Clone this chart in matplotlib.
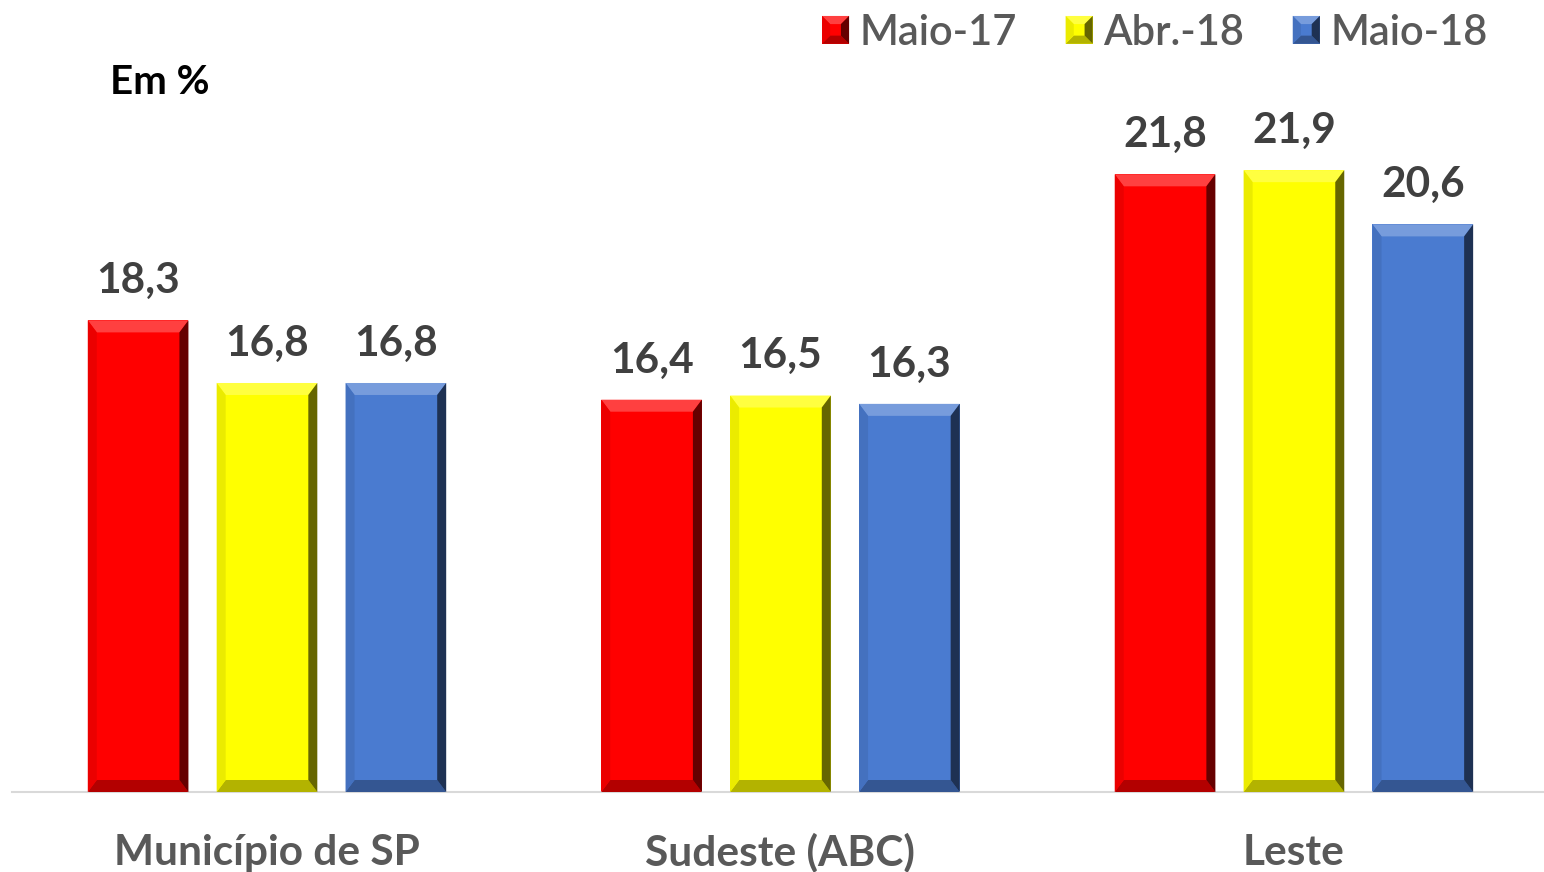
"""
Taxa de desemprego - Municipio de SP, Sudeste (ABC), Leste.
Barras com efeito de chanfro.
"""

import numpy as np
import matplotlib
matplotlib.use('Agg')
import matplotlib.pyplot as plt
from matplotlib.patches import Polygon, Patch
from matplotlib.legend_handler import HandlerPatch
from matplotlib.colors import to_rgb

categories = ['Município de SP', 'Sudeste (ABC)', 'Leste']
series = ['Maio-17', 'Abr.-18', 'Maio-18']
maio17 = [18.3, 16.4, 21.8]
abr18 = [16.8, 16.5, 21.9]
maio18 = [16.8, 16.3, 20.6]
values = [maio17, abr18, maio18]
colors = ['#FF0000', '#FFFF00', '#4A7BD0']

FONT = 'Lato'


def shade(c, f):
    # f>0 lighten, f<0 darken
    r = np.array(to_rgb(c))
    if f > 0:
        return tuple(r + (1 - r) * f)
    return tuple(r * (1 + f))


def faces(x0, y0, x1, y1, dx, dy, color):
    return [
        ([(x0, y1), (x1, y1), (x1 - dx, y1 - dy), (x0 + dx, y1 - dy)], shade(color, 0.25)),
        ([(x0, y0), (x1, y0), (x1 - dx, y0 + dy), (x0 + dx, y0 + dy)], shade(color, -0.3)),
        ([(x1, y0), (x1, y1), (x1 - dx, y1 - dy), (x1 - dx, y0 + dy)], shade(color, -0.6)),
        ([(x0, y0), (x0, y1), (x0 + dx, y1 - dy), (x0 + dx, y0 + dy)], shade(color, -0.08)),
    ]


def bevel(ax, patch, color, sx=9., st=12.):
    # bevel sizes are in pixels, converted to data units
    inv = ax.transData.inverted()
    p0 = inv.transform((0, 0))
    dx = inv.transform((sx, 0))[0] - p0[0]
    dy = inv.transform((0, st))[1] - p0[1]
    x0, y0 = patch.get_x(), patch.get_y()
    x1, y1 = x0 + patch.get_width(), y0 + patch.get_height()
    for pts, fc in faces(x0, y0, x1, y1, dx, dy, color):
        ax.add_patch(Polygon(pts, closed=True, facecolor=fc, edgecolor='none', zorder=3))


class BevelHandler(HandlerPatch):
    def create_artists(self, legend, orig_handle, xdescent, ydescent, width, height,
                       fontsize, trans):
        c = orig_handle.get_facecolor()
        x0, y0 = -xdescent, -ydescent
        x1, y1 = x0 + width, y0 + height
        arts = [Polygon([(x0, y0), (x1, y0), (x1, y1), (x0, y1)], closed=True,
                        facecolor=c, edgecolor='none', transform=trans)]
        d = width * 0.3
        for pts, fc in faces(x0, y0, x1, y1, d, d, c):
            arts.append(Polygon(pts, closed=True, facecolor=fc, edgecolor='none', transform=trans))
        return arts


if __name__ == "__main__":

    W, H = 1544, 872
    fig = plt.figure(figsize=(W / 100., H / 100.), dpi=100)
    ax = fig.add_axes([12. / W, 80. / H, 1532. / W, 709.5 / H])

    x = np.arange(len(categories))
    width = 0.196
    offset = 0.251

    for i in range(3):
        bars = ax.bar(x + (i - 1) * offset, np.array(values[i]) - 7., bottom=7., width=width,
                      color=colors[i], edgecolor='none', zorder=2)
        for b, v in zip(bars, values[i]):
            ax.annotate(('%.1f' % v).replace('.', ','), (b.get_x() + b.get_width() / 2., v),
                        xytext=(0, 19.5), textcoords='offset points', ha='center', va='baseline',
                        fontsize=30.5, fontweight='bold', color='#404040', family=FONT)

    ax.set_xlim([-0.4966, 2.487])
    ax.set_ylim([7, 24])

    fig.canvas.draw()
    for i in range(3):
        for p in ax.containers[i].patches:
            bevel(ax, p, colors[i])

    for s in ['top', 'left', 'right']:
        ax.spines[s].set_visible(False)
    ax.spines['bottom'].set_color('#D9D9D9')
    ax.spines['bottom'].set_linewidth(1.5)
    ax.set_yticks([])
    ax.set_xticks([])

    # category labels on a common baseline
    for xi, cat in zip(x, categories):
        ax.annotate(cat, (xi, 0), xycoords=('data', 'axes fraction'), xytext=(0, -52.5),
                    textcoords='offset points', ha='center', va='baseline', fontsize=30.5,
                    fontweight='bold', color='#595959', family=FONT, annotation_clip=False)

    fig.text(110. / W, 1 - 82. / H, 'Em %', fontsize=29, fontweight='bold', color='black',
             family=FONT, va='center', ha='left')

    handles = [Patch(facecolor=c) for c in colors]
    fig.legend(handles, series, loc='upper right', bbox_to_anchor=(1525. / W, 1 + 24. / H),
               ncol=3, frameon=False, handlelength=0.65, handleheight=0.65, handletextpad=0.25,
               columnspacing=1.17, prop={'family': FONT, 'size': 30, 'weight': 'semibold'},
               labelcolor='#595959', handler_map={Patch: BevelHandler()})

    plt.savefig('out.png', dpi=100)
    plt.close()
